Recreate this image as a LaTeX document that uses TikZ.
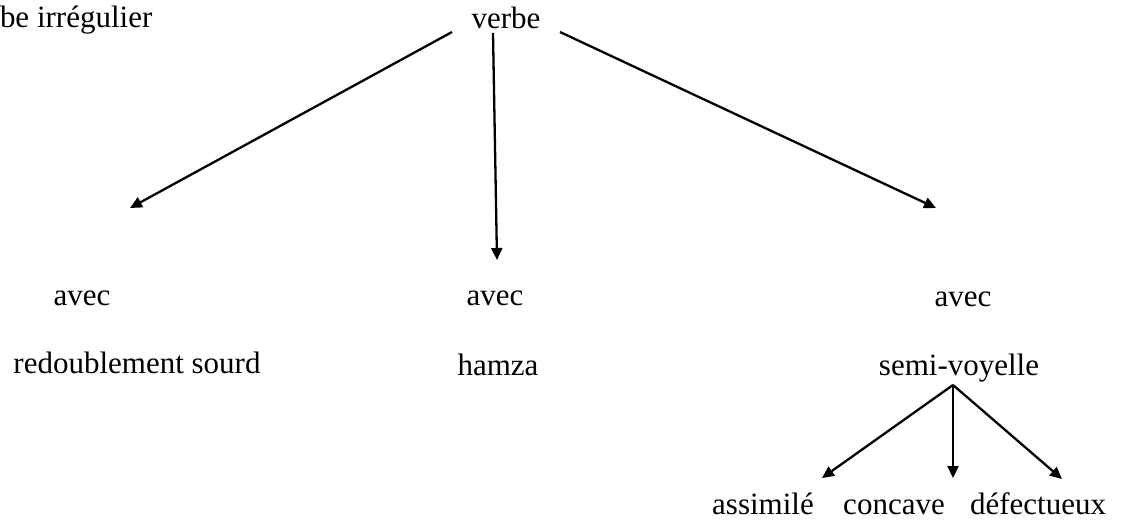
\documentclass[tikz,border=0pt]{standalone}
\usepackage{fontspec}
\setmainfont{Liberation Serif}
\usetikzlibrary{arrows.meta}
\begin{document}
\begin{tikzpicture}[x=1pt,y=-1pt,
  lbl/.style={inner sep=0pt,outer sep=0pt,anchor=base,font=\fontsize{31}{36}\selectfont},
  conn/.style={line width=2.3pt,-{Triangle[length=12pt,width=11pt]}}]
\useasboundingbox (0,0) rectangle (1122,520);
% nodes
\node[lbl,anchor=base west] (titre) at (0,27) {be irrégulier};
\node[lbl] (verbe) at (506,28) {verbe};
\node[lbl] (avecA) at (82,305) {avec};
\node[lbl] (avecB) at (495,305) {avec};
\node[lbl] (avecC) at (963,306) {avec};
\node[lbl] (redoub) at (137,373) {redoublement sourd};
\node[lbl] (hamza) at (498,375) {hamza};
\node[lbl] (semi) at (959,375) {semi-voyelle};
\node[lbl] (assim) at (763,514) {assimilé};
\node[lbl] (conc) at (894,514) {concave};
\node[lbl] (defec) at (1038,514) {défectueux};
% connector ends
\coordinate (vL) at (452,32);
\coordinate (vM) at (493,33);
\coordinate (vR) at (560,32);
\coordinate (eA) at (130,208);
\coordinate (eB) at (497,260);
\coordinate (eC) at (936,208);
\coordinate (sS) at (953,385);
\coordinate (eAs) at (822,478);
\coordinate (eCo) at (953,478);
\coordinate (eDe) at (1062,479);
\draw[conn] (vL) -- (eA);
\draw[conn] (vM) -- (eB);
\draw[conn] (vR) -- (eC);
\draw[conn] (sS) -- (eAs);
\draw[conn] (sS) -- (eCo);
\draw[conn] (sS) -- (eDe);
\end{tikzpicture}
\end{document}
